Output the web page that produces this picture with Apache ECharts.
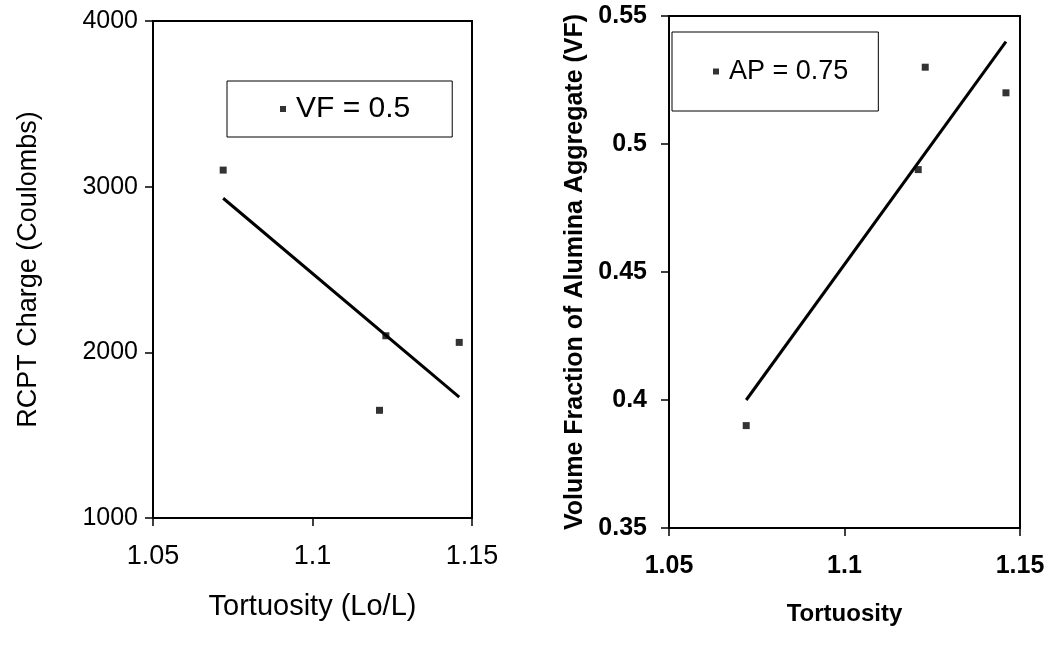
<!DOCTYPE html>
<html>
<head>
<meta charset="utf-8">
<script src="https://cdn.jsdelivr.net/npm/echarts@6/dist/echarts.min.js"></script>
<style>
  html, body { margin: 0; padding: 0; background: #fff; }
  #main { width: 1050px; height: 651px; }
</style>
</head>
<body>
<div id="main"></div>
<script>
// tortuosity (x) for the four mixes
var tortuosity = [1.072, 1.123, 1.121, 1.146];
// left panel: RCPT charge, VF = 0.5
var rcptCharge = [3100, 2100, 1650, 2060];
// right panel: volume fraction, AP = 0.75
var volFraction = [0.39, 0.53, 0.49, 0.52];
// trend line end points
var trendX = [1.072, 1.146];
var rcptTrend = [2930, 1730];
var vfTrend = [0.400, 0.540];

var FONT = '"Liberation Sans", Arial, sans-serif';
var SQUARE = 'path://M0,0L1,0L1,1L0,1Z';

function pairs(xs, ys) {
  var out = [];
  for (var i = 0; i < xs.length; i++) out.push([xs[i], ys[i]]);
  return out;
}
function fmt(v) { return String(parseFloat(v.toFixed(2))); }

var myChart = echarts.init(document.getElementById('main'));

var axisLine = { lineStyle: { color: '#000', width: 2 } };
var axisTick = { show: true, length: 8, lineStyle: { color: '#000', width: 1.5 } };

var option = {
  animation: false,
  backgroundColor: '#fff',
  grid: [
    { left: 153, top: 21, width: 319, height: 497, show: true, borderColor: '#000', borderWidth: 2, backgroundColor: 'transparent' },
    { left: 669, top: 16, width: 351, height: 512, show: true, borderColor: '#000', borderWidth: 2, backgroundColor: 'transparent' }
  ],
  legend: [
    {
      data: [{ name: 'VF = 0.5', icon: SQUARE }],
      left: 227, top: 81,
      itemWidth: 16, itemHeight: 6, itemGap: 0, symbolKeepAspect: true,
      padding: [13, 42, 13, 53],
      borderColor: '#000', borderWidth: 1,
      textStyle: { fontFamily: FONT, fontSize: 30, color: '#000' }
    },
    {
      data: [{ name: 'AP = 0.75', icon: SQUARE }],
      left: 672, top: 32,
      itemWidth: 16, itemHeight: 6, itemGap: 0, symbolKeepAspect: true,
      padding: [26, 30, 26, 41],
      borderColor: '#000', borderWidth: 1,
      textStyle: { fontFamily: FONT, fontSize: 27, color: '#000' }
    }
  ],
  xAxis: [
    {
      gridIndex: 0, type: 'value', min: 1.05, max: 1.15, interval: 0.05,
      name: 'Tortuosity (Lo/L)', nameLocation: 'middle', nameGap: 74,
      nameTextStyle: { fontFamily: FONT, fontSize: 29, color: '#000' },
      axisLine: axisLine, axisTick: axisTick, splitLine: { show: false },
      axisLabel: { formatter: fmt, margin: 25, fontFamily: FONT, fontSize: 27, color: '#000' }
    },
    {
      gridIndex: 1, type: 'value', min: 1.05, max: 1.15, interval: 0.05,
      name: 'Tortuosity', nameLocation: 'middle', nameGap: 74,
      nameTextStyle: { fontFamily: FONT, fontSize: 24, fontWeight: 'bold', color: '#000' },
      axisLine: axisLine, axisTick: axisTick, splitLine: { show: false },
      axisLabel: { formatter: fmt, margin: 26, fontFamily: FONT, fontSize: 25, fontWeight: 'bold', color: '#000' }
    }
  ],
  yAxis: [
    {
      gridIndex: 0, type: 'value', min: 1000, max: 4000, interval: 1000,
      name: 'RCPT Charge (Coulombs)', nameLocation: 'middle', nameGap: 111,
      nameTextStyle: { fontFamily: FONT, fontSize: 27, color: '#000' },
      axisLine: axisLine, axisTick: axisTick, splitLine: { show: false },
      axisLabel: { formatter: function (v) { return String(v); }, margin: 15, fontFamily: FONT, fontSize: 25, color: '#000' }
    },
    {
      gridIndex: 1, type: 'value', min: 0.35, max: 0.55, interval: 0.05,
      name: 'Volume Fraction of Alumina Aggregate (VF)', nameLocation: 'middle', nameGap: 81,
      nameTextStyle: { fontFamily: FONT, fontSize: 25, fontWeight: 'bold', color: '#000' },
      axisLine: axisLine, axisTick: axisTick, splitLine: { show: false },
      axisLabel: { formatter: fmt, margin: 22, fontFamily: FONT, fontSize: 25, fontWeight: 'bold', color: '#000' }
    }
  ],
  series: [
    {
      name: 'VF = 0.5', type: 'scatter', xAxisIndex: 0, yAxisIndex: 0,
      symbol: 'rect', symbolSize: 7,
      itemStyle: { color: '#000' },
      data: pairs(tortuosity, rcptCharge)
    },
    {
      name: 'rcpt trend', type: 'line', xAxisIndex: 0, yAxisIndex: 0,
      symbol: 'none', lineStyle: { color: '#000', width: 3 },
      data: pairs(trendX, rcptTrend)
    },
    {
      name: 'AP = 0.75', type: 'scatter', xAxisIndex: 1, yAxisIndex: 1,
      symbol: 'rect', symbolSize: 7,
      itemStyle: { color: '#000' },
      data: pairs(tortuosity, volFraction)
    },
    {
      name: 'vf trend', type: 'line', xAxisIndex: 1, yAxisIndex: 1,
      symbol: 'none', lineStyle: { color: '#000', width: 3 },
      data: pairs(trendX, vfTrend)
    }
  ]
};
myChart.setOption(option);
</script>
</body>
</html>
